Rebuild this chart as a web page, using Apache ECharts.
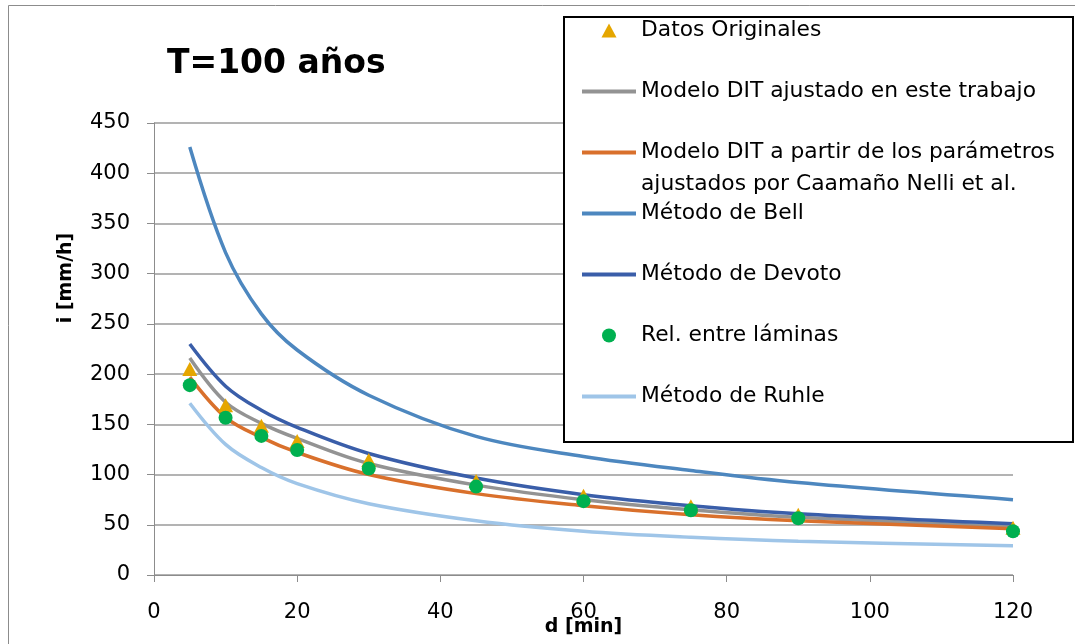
<!DOCTYPE html>
<html>
<head>
<meta charset="utf-8">
<script src="https://cdn.jsdelivr.net/npm/echarts@6/dist/echarts.min.js"></script>
<style>html,body{margin:0;padding:0;background:#fff;}#c{width:1075px;height:644px;}</style>
</head>
<body>
<div id="c"></div>
<script>
const durations = [5, 10, 15, 20, 30, 45, 60, 75, 90, 120];
const datosOriginales = [205, 169, 148.5, 133.5, 114.5, 93.5, 79, 68.5, 60, 47];
const modeloDIT = [216, 172, 151, 136, 111, 89.5, 75, 65, 57.5, 48];
const modeloCaamano = [197, 157, 137, 122, 100, 81, 69, 60, 54, 46];
const metodoBell = [426, 321, 260, 224, 179, 138, 118, 104, 92, 75];
const metodoDevoto = [230, 188, 164, 147, 121, 96.5, 80, 69, 61, 51];
const relLaminas = [189, 156.5, 138.5, 124.5, 106, 88, 73.5, 64.5, 56.5, 43.5];
const metodoRuhle = [171, 130, 107, 91, 71, 54, 43.5, 37.5, 33.5, 29];
const xTicks = [0, 20, 40, 60, 80, 100, 120];
const yTicks = [0, 50, 100, 150, 200, 250, 300, 350, 400, 450];

const names = {
  datos: 'Datos Originales',
  dit: 'Modelo DIT ajustado en este trabajo',
  caa: 'Modelo DIT a partir de los parámetros',
  bell: 'Método de Bell',
  devoto: 'Método de Devoto',
  rel: 'Rel. entre láminas',
  ruhle: 'Método de Ruhle'
};
const caaLine2 = 'ajustados por Caamaño Nelli et al.';

const pairs = arr => durations.map((d, i) => [d, arr[i]]);
const FONT = 'DejaVu Sans';
const LINE_ICON = 'path://M0,0 L54,0 L54,4 L0,4 Z';
const TRI_ICON = 'path://M7.5,0 L15,14 L0,14 Z';

function lineSeries(name, data, color) {
  return {
    name, type: 'line', data: pairs(data), smooth: 0.35, symbol: 'none',
    lineStyle: { color, width: 3.5 }, itemStyle: { color }, z: 2
  };
}

const chart = echarts.init(document.getElementById('c'), null, { renderer: 'canvas' });
chart.setOption({
  animation: false,
  backgroundColor: '#fff',
  title: {
    text: 'T=100 años', left: 167, top: 48, padding: 0,
    textStyle: { fontFamily: FONT, fontWeight: 'bold', fontSize: 33, color: '#000' }
  },
  grid: { left: 154, right: 62, top: 123, bottom: 69, containLabel: false, outerBoundsMode: 'none' },
  xAxis: {
    type: 'value', min: 0, max: 120, interval: 20,
    name: 'd [min]', nameLocation: 'middle', nameGap: 43, nameMoveOverlap: false,
    nameTextStyle: { fontFamily: FONT, fontWeight: 'bold', fontSize: 19, color: '#000' },
    axisLine: { show: true, lineStyle: { color: '#8c8c8c', width: 1 } },
    axisTick: { show: true, length: 7, lineStyle: { color: '#8c8c8c' } },
    splitLine: { show: false },
    axisLabel: { fontFamily: FONT, fontSize: 21, color: '#000', margin: 27,
      formatter: v => (xTicks.includes(v) ? String(v) : '') }
  },
  yAxis: {
    type: 'value', min: 0, max: 450, interval: 50,
    axisLine: { show: true, lineStyle: { color: '#8c8c8c', width: 1 } },
    axisTick: { show: true, length: 7, lineStyle: { color: '#8c8c8c' } },
    splitLine: { show: true, lineStyle: { color: '#9a9a9a', width: 1.5 } },
    axisLabel: { fontFamily: FONT, fontSize: 21, color: '#000', margin: 24,
      formatter: v => (yTicks.includes(v) ? String(v) : '') }
  },
  legend: {
    orient: 'vertical', left: 582, top: 15, padding: 0, itemGap: 30,
    itemWidth: 54, itemHeight: 14, z: 20,
    textStyle: { fontFamily: FONT, fontSize: 21.8, color: '#000', lineHeight: 31 },
    data: [
      { name: names.datos, icon: TRI_ICON },
      { name: names.dit, icon: LINE_ICON },
      { name: names.caa, icon: LINE_ICON },
      { name: names.bell, icon: LINE_ICON },
      { name: names.devoto, icon: LINE_ICON },
      { name: names.rel, icon: 'circle' },
      { name: names.ruhle, icon: LINE_ICON }
    ]
  },
  graphic: [
    { type: 'rect', z: -10, silent: true,
      shape: { x: 8.5, y: 5.5, width: 1080, height: 650 },
      style: { fill: '#fff', stroke: '#8c8c8c', lineWidth: 1 } },
    { type: 'rect', z: 10, silent: true,
      shape: { x: 564, y: 17, width: 509, height: 425 },
      style: { fill: '#fff', stroke: '#000', lineWidth: 2 } },
    { type: 'text', z: 21, silent: true, x: 641, y: 184,
      style: { text: caaLine2, font: '21.8px "' + FONT + '"', fill: '#000', verticalAlign: 'middle', align: 'left' } },
    { type: 'text', z: 21, silent: true, x: 66, y: 278, rotation: Math.PI / 2,
      style: { text: 'i [mm/h]', font: 'bold 19px "' + FONT + '"', fill: '#000', verticalAlign: 'middle', align: 'center' } }
  ],
  series: [
    { name: names.datos, type: 'scatter', data: pairs(datosOriginales), symbol: 'triangle',
      symbolSize: [15, 14], itemStyle: { color: '#e5a600', opacity: 1 }, z: 3 },
    lineSeries(names.dit, modeloDIT, '#939393'),
    lineSeries(names.caa, modeloCaamano, '#d9702c'),
    lineSeries(names.bell, metodoBell, '#4d87bf'),
    lineSeries(names.devoto, metodoDevoto, '#3a5ea9'),
    { name: names.rel, type: 'scatter', data: pairs(relLaminas), symbol: 'circle',
      symbolSize: 14, itemStyle: { color: '#00b050', opacity: 1 }, z: 4 },
    lineSeries(names.ruhle, metodoRuhle, '#9fc5e8')
  ]
});
</script>
</body>
</html>
